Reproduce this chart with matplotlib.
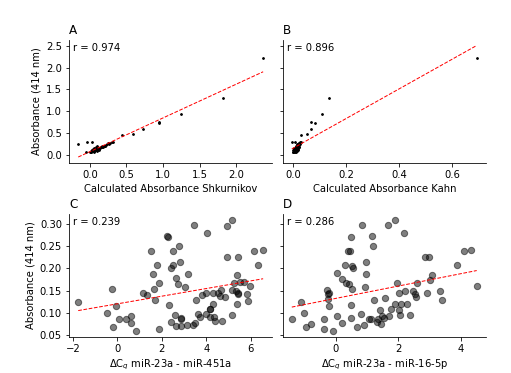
import matplotlib
matplotlib.use("Agg")
import matplotlib.pyplot as plt
import numpy as np

# top row: absorbance vs calculated absorbance (same samples in A and B)
absorbance_ab = [2.22, 1.30, 0.945, 0.74, 0.72, 0.595, 0.48, 0.45, 0.30, 0.297, 0.236, 0.06, 0.27,
                 0.06, 0.07, 0.08, 0.07, 0.09, 0.10, 0.08, 0.11, 0.09, 0.10, 0.12, 0.09, 0.11, 0.10,
                 0.12, 0.13, 0.11, 0.14, 0.12, 0.13, 0.12, 0.15, 0.13, 0.14, 0.15, 0.16, 0.14, 0.16,
                 0.17, 0.18, 0.17, 0.19, 0.18, 0.20, 0.19, 0.21, 0.22, 0.24, 0.25, 0.27, 0.29, 0.29,
                 0.13, 0.15, 0.17, 0.19, 0.06, 0.08, 0.11, 0.12]
shkurnikov = [2.37, 1.82, 1.25, 0.94, 0.94, 0.72, 0.59, 0.44, 0.03, -0.04, -0.16, -0.06, 0.245,
              0.00, 0.01, 0.02, 0.02, 0.03, 0.03, 0.04, 0.04, 0.05, 0.05, 0.05, 0.06, 0.06, 0.07,
              0.07, 0.07, 0.08, 0.08, 0.09, 0.09, 0.10, 0.10, 0.11, 0.11, 0.12, 0.12, 0.13, 0.14,
              0.15, 0.15, 0.16, 0.17, 0.18, 0.19, 0.20, 0.21, 0.22, 0.24, 0.26, 0.28, 0.30, 0.32,
              0.04, 0.06, 0.08, 0.10, 0.05, 0.09, 0.12, 0.03]
kahn = [0.692, 0.136, 0.107, 0.066, 0.081, 0.066, 0.053, 0.028, -0.006, 0.005, 0.012, 0.0, 0.02,
        0.000, 0.002, 0.004, 0.008, 0.001, 0.003, 0.010, 0.005, 0.012, 0.006, 0.002, 0.004, 0.009, 0.014,
        0.007, 0.004, 0.011, 0.006, 0.013, 0.010, 0.016, 0.008, 0.003, 0.012, 0.015, 0.010, 0.018, 0.014,
        0.012, 0.017, 0.020, 0.015, 0.022, 0.013, 0.019, 0.016, 0.020, 0.018, 0.024, 0.022, 0.026, 0.030,
        0.006, 0.002, 0.009, 0.011, 0.005, 0.001, -0.002, 0.001]

# bottom row: absorbance vs delta Cq
dcq_451a = [-1.76, -0.26, -0.46, -0.05, -0.20, 0.08, 0.40, 0.60, 0.60, 0.84, 1.14, 1.32, 1.53, 1.77,
            1.61, 1.65, 1.85, 1.71, 1.89, 2.25, 2.27, 2.51, 2.79, 2.40, 2.48, 2.81, 2.64, 2.72, 2.33,
            2.57, 2.43, 2.64, 2.84, 2.87, 2.84, 3.19, 3.06, 3.13, 3.45, 3.42, 3.49, 3.63, 3.55, 3.78,
            3.97, 4.03, 3.73, 3.97, 4.14, 4.18, 4.29, 4.14, 4.36, 4.38, 4.30, 4.50, 4.63, 4.71, 4.65,
            4.85, 4.91, 4.91, 5.17, 5.15, 5.17, 5.26, 5.37, 5.42, 5.34, 5.42, 5.44, 5.52, 5.37, 5.71,
            5.83, 5.89, 5.97, 6.16, 6.34, 6.55]
abs_451a = [0.125, 0.153, 0.099, 0.116, 0.067, 0.086, 0.086, 0.093, 0.076, 0.058, 0.144, 0.141, 0.239,
            0.207, 0.188, 0.154, 0.167, 0.129, 0.064, 0.274, 0.272, 0.240, 0.250, 0.200, 0.207, 0.214,
            0.178, 0.164, 0.118, 0.094, 0.078, 0.069, 0.085, 0.087, 0.069, 0.187, 0.158, 0.073, 0.298,
            0.073, 0.076, 0.097, 0.128, 0.139, 0.144, 0.280, 0.090, 0.097, 0.108, 0.109, 0.120, 0.091,
            0.091, 0.082, 0.144, 0.144, 0.137, 0.082, 0.152, 0.136, 0.296, 0.225, 0.310, 0.152, 0.095,
            0.167, 0.185, 0.225, 0.149, 0.144, 0.143, 0.170, 0.120, 0.169, 0.142, 0.127, 0.161, 0.240,
            0.208, 0.242]

dcq_16 = [-1.41, -1.11, -1.03, -0.96, -0.81, -0.38, -0.38, -0.29, -0.26, -0.21, -0.25, -0.23, -0.09,
          0.04, 0.04, 0.20, 0.20, 0.28, 0.33, 0.39, 0.45, 0.42, 0.49, 0.52, 0.54, 0.52, 0.50, 0.48,
          0.69, 0.80, 0.83, 0.91, 0.96, 0.98, 0.94, 1.07, 1.15, 1.18, 1.22, 1.14, 1.33, 1.35, 1.42,
          1.47, 1.45, 1.55, 1.58, 1.67, 1.70, 1.76, 1.88, 1.90, 1.96, 2.01, 2.01, 2.04, 2.10, 2.17,
          2.20, 2.27, 2.37, 2.47, 2.52, 2.56, 2.59, 2.84, 2.98, 2.93, 3.00, 3.09, 3.33, 3.39, 3.89,
          4.09, 4.33, 4.51]
abs_16 = [0.086, 0.125, 0.099, 0.067, 0.075, 0.086, 0.064, 0.152, 0.143, 0.144, 0.131, 0.116, 0.059,
          0.189, 0.093, 0.177, 0.077, 0.207, 0.168, 0.240, 0.240, 0.164, 0.272, 0.206, 0.201, 0.154,
          0.118, 0.088, 0.068, 0.096, 0.298, 0.071, 0.187, 0.215, 0.158, 0.086, 0.274, 0.250, 0.128,
          0.086, 0.078, 0.085, 0.106, 0.093, 0.074, 0.088, 0.134, 0.298, 0.093, 0.109, 0.310, 0.120,
          0.168, 0.144, 0.106, 0.095, 0.120, 0.280, 0.150, 0.120, 0.094, 0.150, 0.143, 0.135, 0.168,
          0.225, 0.225, 0.144, 0.173, 0.185, 0.150, 0.128, 0.207, 0.239, 0.241, 0.161]

r_labels = ["r = 0.974", "r = 0.896", "r = 0.239", "r = 0.286"]
panel_labels = ["A", "B", "C", "D"]
x_labels = ["Calculated Absorbance Shkurnikov", "Calculated Absorbance Kahn",
            "ΔC$_q$ miR-23a - miR-451a", "ΔC$_q$ miR-23a - miR-16-5p"]

fig, axes = plt.subplots(2, 2, sharey='row', figsize=(511 / 72, 373 / 72), dpi=72)
fig.subplots_adjust(left=0.135, right=0.951, top=0.893, bottom=0.097, wspace=0.05, hspace=0.42)

datasets = [(shkurnikov, absorbance_ab), (kahn, absorbance_ab), (dcq_451a, abs_451a), (dcq_16, abs_16)]

for i, ax in enumerate(axes.flat):
    x, y = np.array(datasets[i][0]), np.array(datasets[i][1])
    if i < 2:
        ax.scatter(x, y, s=3, color='black')
    else:
        ax.scatter(x, y, s=40, color='black', alpha=0.5)
    slope, intercept = np.polyfit(x, y, 1)
    xs = np.array([x.min(), x.max()])
    ax.plot(xs, intercept + slope * xs, '--', color='red', linewidth=1)
    ax.text(0.02, 0.975, r_labels[i], transform=ax.transAxes, va='top', ha='left')
    ax.set_title(panel_labels[i], loc='left')
    ax.set_xlabel(x_labels[i])
    ax.spines['top'].set_visible(False)
    ax.spines['right'].set_visible(False)
    if i % 2 == 0:
        ax.set_ylabel('Absorbance (414 nm)')

axes[0, 0].set_yticks([0.0, 0.5, 1.0, 1.5, 2.0, 2.5])
axes[1, 0].set_yticks([0.05, 0.10, 0.15, 0.20, 0.25, 0.30])

plt.savefig('out.png', dpi=72)
